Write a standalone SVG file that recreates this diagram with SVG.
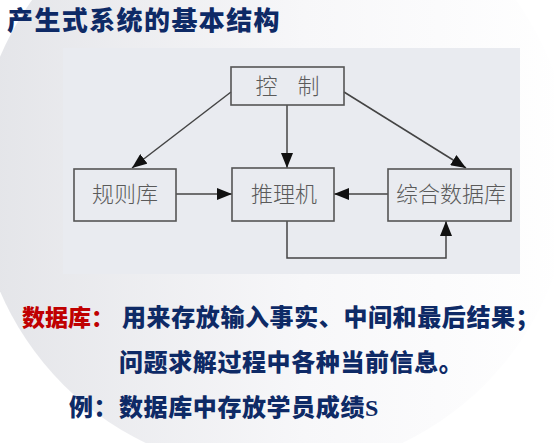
<svg xmlns="http://www.w3.org/2000/svg" width="554" height="443" viewBox="0 0 554 443">
<defs>
<linearGradient id="bg" x1="0" y1="0" x2="1" y2="0" gradientUnits="objectBoundingBox">
<stop offset="0" stop-color="#e3e4e8"/>
<stop offset="0.55" stop-color="#f7f7f9"/>
<stop offset="1" stop-color="#ffffff"/>
</linearGradient>
<marker id="arr" markerUnits="userSpaceOnUse" markerWidth="15" markerHeight="12" refX="15" refY="6" orient="auto">
<path d="M0,0 L15,6 L0,12 z" fill="#111"/>
</marker>
<style>
.box{fill:none;stroke:#555;stroke-width:1.6}
.lbl{font-family:"Noto Sans CJK SC","Noto Sans",sans-serif;font-weight:300;font-size:22px;fill:#5a5a5a;text-anchor:middle}
.con{fill:none;stroke:#444;stroke-width:1.5}
.title{font-family:"Noto Sans CJK SC",sans-serif;font-weight:900;font-size:26px;fill:#0e2a66;letter-spacing:1.4px}
.body{font-family:"Noto Sans CJK SC",sans-serif;font-weight:900;font-size:24px;fill:#0e2a66;letter-spacing:0.6px}
.red{font-family:"Noto Sans CJK SC",sans-serif;font-weight:900;font-size:23px;fill:#c00000}
</style>
</defs>
<rect width="554" height="443" fill="#ffffff"/>
<circle cx="274" cy="174" r="298" fill="url(#bg)"/>
<text class="title" x="7" y="30">产生式系统的基本结构</text>
<rect x="63" y="48" width="457" height="226" fill="#e9ebf0"/>
<g id="connectors">
<line class="con" x1="231" y1="92" x2="132" y2="168" marker-end="url(#arr)"/>
<line class="con" x1="287" y1="105" x2="287" y2="168" marker-end="url(#arr)"/>
<line class="con" x1="344" y1="92" x2="466" y2="168" marker-end="url(#arr)"/>
<line class="con" x1="176" y1="194" x2="232" y2="194" marker-end="url(#arr)"/>
<line class="con" x1="388" y1="194" x2="334" y2="194" marker-end="url(#arr)"/>
<polyline class="con" points="287,221 287,258 446,258 446,221" marker-end="url(#arr)"/>
</g>
<g id="control">
<rect class="box" x="231" y="67" width="113" height="38"/>
<text class="lbl" x="287.5" y="94">控<tspan dx="20">制</tspan></text>
</g>
<g id="rules">
<rect class="box" x="74" y="169" width="102" height="52"/>
<text class="lbl" x="125" y="202">规则库</text>
</g>
<g id="engine">
<rect class="box" x="232" y="168" width="102" height="53"/>
<text class="lbl" x="284" y="202">推理机</text>
</g>
<g id="database">
<rect class="box" x="388" y="169" width="123" height="52"/>
<text class="lbl" x="451" y="202">综合数据库</text>
</g>
<text class="red" x="22" y="326">数据库：</text>
<text class="body" x="122" y="326">用来存放输入事实、中间和最后结果；</text>
<text class="body" x="119" y="371">问题求解过程中各种当前信息。</text>
<text class="body" x="69" y="416">例：</text>
<text class="body" x="119" y="416">数据库中存放学员成绩<tspan font-family="'Liberation Serif',serif">S</tspan></text>
</svg>
